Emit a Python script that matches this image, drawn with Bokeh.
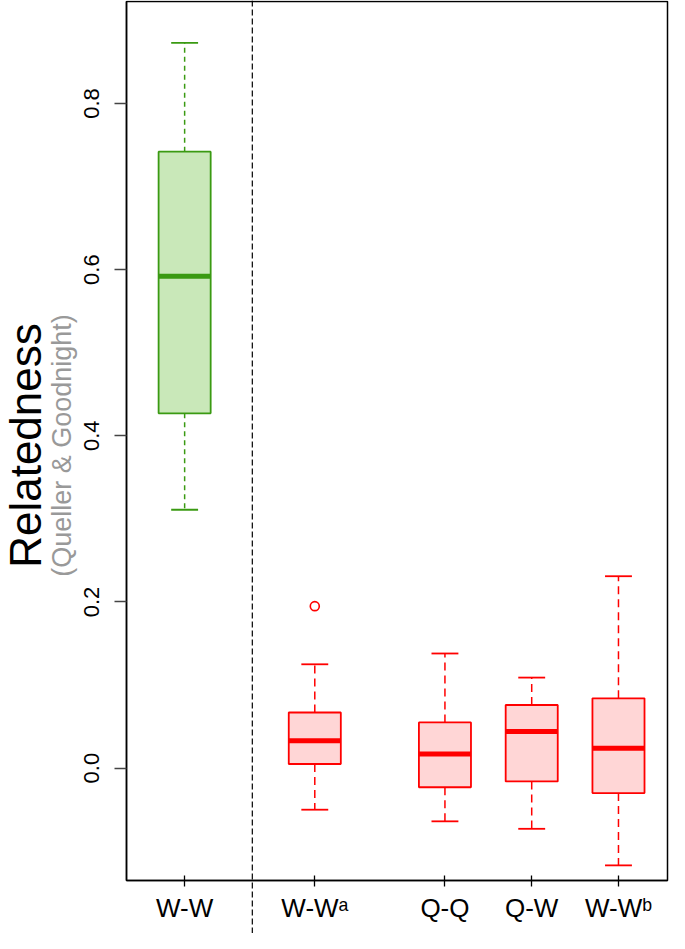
import math
from bokeh.plotting import figure
from bokeh.models import FixedTicker, Span, PrintfTickFormatter
from bokeh.core.properties import value
from bokeh.embed import file_html
from bokeh.resources import INLINE

# ---- data ----
groups = ["W-W", "W-W\u1d43", "Q-Q", "Q-W", "W-W\u1d47"]
positions = [1.0, 2.5, 4.0, 5.0, 6.0]
whisker_low = [0.311, -0.050, -0.064, -0.073, -0.117]
q1 = [0.427, 0.005, -0.023, -0.016, -0.030]
median = [0.592, 0.033, 0.017, 0.044, 0.024]
q3 = [0.742, 0.067, 0.055, 0.076, 0.084]
whisker_high = [0.873, 0.125, 0.138, 0.109, 0.231]
outlier_pos = [2.5]
outlier_val = [0.195]
y_ticks = [0.0, 0.2, 0.4, 0.6, 0.8]

line_colors = ["#3a9a12", "#ff0000", "#ff0000", "#ff0000", "#ff0000"]
fill_colors = ["#c9e8b9", "#ffd6d6", "#ffd6d6", "#ffd6d6", "#ffd6d6"]
dashes = ["5 4", "8 5", "8 5", "8 5", "8 5"]

# ---- layout constants ----
X_BOX = (0.33, 6.565)        # plotting box (data units)
Y_BOX = (-0.1352, 0.9227)
X_VIEW = (-1.1221, 6.588)    # full canvas (room for axis labels)
Y_VIEW = (-0.1990, 0.9239)
DIVIDER_X = 1.78
BOX_HALF = 0.3
CAP_HALF = 0.155

p = figure(width=669, height=933, x_range=X_VIEW, y_range=Y_VIEW,
           output_backend="svg", toolbar_location=None, min_border=0)
p.min_border_left = 0
p.min_border_right = 0
p.min_border_top = 0
p.min_border_bottom = 0
p.grid.visible = False
p.outline_line_color = None
p.background_fill_color = "white"
p.border_fill_color = "white"

# divider spanning the whole canvas height
p.add_layout(Span(location=DIVIDER_X, dimension="height", line_color="black",
                  line_width=1.2, line_dash="6 3"))

# frame box (top & right edges; left/bottom are the axes)
p.quad(left=[X_BOX[0]], right=[X_BOX[1]], bottom=[Y_BOX[0]], top=[Y_BOX[1]],
       fill_color=None, line_color="black", line_width=1.5)

for i in range(len(groups)):
    x = positions[i]
    lc = line_colors[i]
    p.quad(left=[x - BOX_HALF], right=[x + BOX_HALF], bottom=[q1[i]], top=[q3[i]],
           fill_color=fill_colors[i], line_color=lc, line_width=1.8)
    p.segment(x0=[x, x], y0=[q3[i], q1[i]], x1=[x, x], y1=[whisker_high[i], whisker_low[i]],
              line_color=lc, line_width=1.5, line_dash=dashes[i])
    p.segment(x0=[x - CAP_HALF, x - CAP_HALF], y0=[whisker_high[i], whisker_low[i]],
              x1=[x + CAP_HALF, x + CAP_HALF], y1=[whisker_high[i], whisker_low[i]],
              line_color=lc, line_width=1.8)
    p.segment(x0=[x - BOX_HALF], y0=[median[i]], x1=[x + BOX_HALF], y1=[median[i]],
              line_color=lc, line_width=5)

p.scatter(x=outlier_pos, y=outlier_val, size=9, marker="circle",
          fill_color=None, line_color="#ff0000", line_width=1.6)

# axes, fixed at the box edges
xa = p.xaxis[0]
xa.fixed_location = Y_BOX[0]
xa.bounds = X_BOX
xa.ticker = FixedTicker(ticks=positions)
xa.major_label_overrides = {positions[i]: groups[i] for i in range(len(groups))}
xa.major_label_text_font = "Liberation Sans"
xa.major_label_text_font_size = "26px"
xa.major_label_text_color = "black"
xa.major_tick_in = 5
xa.major_tick_out = 6
xa.minor_tick_line_color = None
xa.major_label_standoff = 7
xa.axis_line_width = 1.5
xa.major_tick_line_width = 1.3

ya = p.yaxis[0]
ya.fixed_location = X_BOX[0]
ya.bounds = Y_BOX
ya.ticker = FixedTicker(ticks=y_ticks)
ya.formatter = PrintfTickFormatter(format="%.1f")
ya.major_label_orientation = "vertical"
ya.major_label_text_font = "Liberation Sans"
ya.major_label_text_font_size = "22px"
ya.major_label_text_color = "black"
ya.major_tick_in = 0
ya.major_tick_out = 12
ya.minor_tick_line_color = None
ya.major_label_standoff = 15
ya.axis_line_width = 1.5
ya.major_tick_line_width = 1.3
ya.major_tick_line_color = "#444444"

# y-axis title and subtitle
p.text(x=[-0.8293], y=[0.3883], text=["Relatedness"], angle=math.pi / 2,
       text_align="center", text_baseline="alphabetic",
       text_font=value("Liberation Sans"), text_font_size="44px", text_color="black")
p.text(x=[-0.4150], y=[0.3883], text=["(Queller & Goodnight)"], angle=math.pi / 2,
       text_align="center", text_baseline="alphabetic",
       text_font=value("Liberation Sans"), text_font_size="27px", text_color="#999999")

open("out.html", "w").write(file_html(p, INLINE))
